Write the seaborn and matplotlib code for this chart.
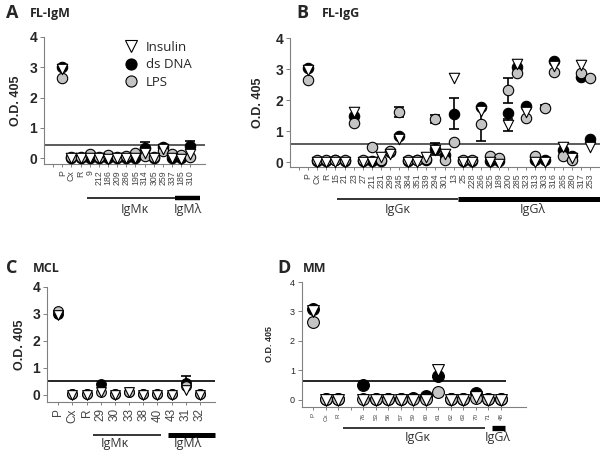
import pandas as pd
import matplotlib
matplotlib.use("Agg")
import matplotlib.pyplot as plt
from matplotlib.lines import Line2D
import seaborn as sns

# --- dados: painel A (FL-IgM) ---
cats_a = ["P", "Cx", "R", "9", "212", "186", "209", "286", "195", "314",
          "305", "259", "337", "185", "310"]
ins_a = [2.95, 0.0, 0.0, 0.0, 0.0, -0.03, 0.0, 0.0, 0.0, 0.18, 0.0, 0.3, 0.02, -0.03, 0.15]
dna_a = [3.02, 0.02, 0.02, 0.02, 0.02, 0.02, 0.02, 0.02, 0.02, 0.34, 0.02, 0.36, 0.02, 0.02, 0.4]
lps_a = [2.65, 0.05, 0.05, 0.15, 0.05, 0.1, 0.05, 0.08, 0.16, 0.08, 0.03, 0.25, 0.14, 0.1, 0.05]
err_dna_a = [0, 0, 0, 0, 0, 0, 0, 0, 0, 0.18, 0, 0, 0, 0, 0.18]
thr_a = 0.45

# --- painel B (FL-IgG) ---
cats_b = ["P", "Cx", "R", "15", "21", "23", "27", "211", "231", "299", "245",
          "384", "351", "339", "294", "301", "13", "25", "228", "266", "325",
          "189", "200", "285", "323", "313", "303", "316", "265", "280", "317", "253"]
ins_b = [2.97, 0.0, 0.0, 0.0, 0.0, 1.62, 0.0, 0.0, 0.17, 0.25, 0.73,
         0.0, 0.0, 0.15, 0.4, 0.25, 2.7, 0.0, 0.0, 1.65, 0.0,
         -0.05, 1.2, 3.17, 1.62, 0.0, 0.0, 3.1, 0.48, 0.12, 3.13, 0.48]
dna_b = [3.03, 0.03, 0.03, 0.08, 0.03, 1.5, 0.03, 0.03, 0.03, 0.33, 0.84,
         0.03, 0.05, 0.05, 0.42, 0.22, 1.55, 0.03, 0.03, 1.78, 0.03,
         0.03, 1.57, 3.05, 1.8, 0.05, 0.05, 3.27, 0.4, 0.18, 2.75, 0.74]
lps_b = [2.65, 0.05, 0.05, 0.05, 0.05, 1.25, 0.05, 0.47, 0.05, 0.36, 1.61,
         0.05, 0.05, 0.1, 1.39, 0.05, 0.65, 0.05, 0.05, 1.22, 0.2,
         0.12, 2.32, 2.88, 1.42, 0.2, 1.75, 2.9, 0.2, 0.05, 2.87, 2.7]
err_ins_b = [0] * 22 + [0.2] + [0] * 9
err_dna_b = [0] * 14 + [0.18] + [0] + [0.5] + [0] * 15
err_lps_b = ([0] * 10 + [0.15] + [0] * 3 + [0.12] + [0] * 4 + [0.55] + [0] * 2
             + [0.4] + [0] * 3 + [0.08] + [0] * 5)
thr_b = 0.57

# --- painel C (MCL) ---
cats_c = ["P", "Cx", "R", "29", "30", "33", "38", "40", "43", "31", "32"]
ins_c = [2.95, 0.0, 0.0, 0.1, 0.0, 0.1, 0.0, 0.0, 0.0, 0.2, 0.0]
dna_c = [3.0, 0.02, 0.02, 0.4, 0.05, 0.1, 0.02, 0.05, 0.02, 0.43, 0.02]
lps_c = [3.12, 0.02, 0.02, 0.12, 0.02, 0.1, 0.02, 0.02, 0.02, 0.35, 0.02]
err_dna_c = [0, 0, 0, 0, 0, 0, 0, 0, 0, 0.28, 0]
thr_c = 0.52

# --- painel D (MM) ---
cats_d = ["P", "Cx", "R", "76", "53", "56", "57", "59", "60", "61",
          "62", "63", "70", "71", "48"]
ins_d = [3.0, 0.0, 0.0, 0.0, 0.0, 0.0, 0.0, 0.0, 0.0, 1.0, 0.0, 0.0, 0.1, 0.0, 0.0]
dna_d = [3.07, 0.02, 0.02, 0.5, 0.02, 0.02, 0.02, 0.05, 0.13, 0.8, 0.02, 0.02, 0.22, 0.02, 0.02]
lps_d = [2.65, 0.02, 0.02, 0.02, 0.02, 0.02, 0.02, 0.02, 0.02, 0.26, 0.02, 0.02, 0.05, 0.02, 0.02]
thr_d = 0.65

antigenos = ["Insulin", "ds DNA", "LPS"]
estilo = {
    "ds DNA": dict(marker="o", color="black", zorder=3),
    "LPS": dict(marker="o", color="#c4c4c4", zorder=4),
    "Insulin": dict(marker="v", color="white", zorder=5),
}

sns.set_style("ticks")
plt.rcParams["font.family"] = ["Liberation Sans", "DejaVu Sans"]

fig = plt.figure(figsize=(6, 4.5), dpi=100)


def eixo(l, t, r, b):
    # retangulo em pixels -> fracao da figura
    return fig.add_axes([l / 600, 1 - b / 450, (r - l) / 600, (b - t) / 450])


def painel(ax, order, cats, ins, dna, lps, erros, size, lw_err=1.2, so_cima=False):
    df = pd.DataFrame({"amostra": cats, "Insulin": ins, "ds DNA": dna, "LPS": lps})
    for ag in ["ds DNA", "LPS", "Insulin"]:
        st = estilo[ag]
        sns.stripplot(data=df, x="amostra", y=ag, order=order, jitter=False,
                      marker=st["marker"], color=st["color"], edgecolor="black",
                      linewidth=0.8, size=size, zorder=st["zorder"], ax=ax)
    for serie, err in erros:
        for c, v, e in zip(cats, serie, err):
            if e > 0:
                yerr = [[0], [e]] if so_cima else e
                ax.errorbar(order.index(c), v, yerr=yerr, fmt="none", ecolor="black",
                            elinewidth=lw_err, capsize=3.5, capthick=lw_err, zorder=2)
    ax.set_xlabel("")
    ax.set_ylabel("O.D. 405", fontsize=9, fontweight="bold")
    ax.set_yticks([0, 1, 2, 3, 4])
    for s in ["top", "right"]:
        ax.spines[s].set_visible(False)
    for s in ["left", "bottom"]:
        ax.spines[s].set_color("#808080")
        ax.spines[s].set_linewidth(0.8)
    ax.tick_params(axis="y", length=3, width=0.7, color="#808080", labelsize=10, pad=2)
    ax.tick_params(axis="x", length=2.5, width=0.7, color="#808080", labelsize=6.3,
                   labelrotation=90, labelcolor="#444444", pad=2)
    for lb in ax.get_yticklabels():
        lb.set_fontweight("bold")


def grupo(x0, x1, y, lw, cor="black"):
    fig.add_artist(Line2D([x0 / 600, x1 / 600], [1 - y / 450] * 2, color=cor, lw=lw,
                          transform=fig.transFigure, solid_capstyle="butt"))


def rotulo(x, y, txt, size=9):
    fig.text(x / 600, 1 - y / 450, txt, ha="center", va="center", fontsize=size,
             family=["Open Sans", "DejaVu Sans"], color="#333333")


# --- A ---
ax_a = eixo(44, 37, 205, 164)
order_a = [" "] + cats_a
painel(ax_a, order_a, cats_a, ins_a, dna_a, lps_a, [(dna_a, err_dna_a)], 7.5, so_cima=True)
ax_a.axhline(thr_a, color="#404040", lw=1.2, zorder=1)
ax_a.set_xlim(-1, 16.6)
ax_a.set_ylim(-0.19, 4.0)
ax_a.yaxis.set_label_coords(-0.135, 0.5)
leg = [Line2D([], [], ls="none", marker=estilo[a]["marker"], markerfacecolor=estilo[a]["color"],
              markeredgecolor="black", markersize=8, markeredgewidth=0.8) for a in antigenos]
ax_a.legend(leg, antigenos, loc="upper left", bbox_to_anchor=(118 / 600, 1 - 34 / 450),
            bbox_transform=fig.transFigure, frameon=False, handlelength=1.0,
            handletextpad=0.6, labelspacing=0.35, borderpad=0,
            prop={"family": "Open Sans", "size": 9.5})

# --- B ---
ax_b = eixo(290, 38, 600, 167)
order_b = [" "] + cats_b
painel(ax_b, order_b, cats_b, ins_b, dna_b, lps_b,
       [(ins_b, err_ins_b), (dna_b, err_dna_b), (lps_b, err_lps_b)], 7.5)
ax_b.axhline(thr_b, color="#404040", lw=1.2, zorder=1)
ax_b.set_xlim(-1, 33.1)
ax_b.set_ylim(-0.16, 4.0)
ax_b.yaxis.set_label_coords(-0.085, 0.5)

# --- C ---
ax_c = eixo(47, 287, 215, 402)
order_c = cats_c
painel(ax_c, order_c, cats_c, ins_c, dna_c, lps_c, [(dna_c, err_dna_c)], 7, so_cima=True)
ax_c.axhline(thr_c, color="black", lw=1.2, zorder=1)
ax_c.set_xlim(-0.8, 11.06)
ax_c.set_ylim(-0.26, 4.0)
ax_c.tick_params(axis="x", labelsize=8.5)
ax_c.yaxis.set_label_coords(-0.125, 0.5)

# --- D ---
ax_d = eixo(302, 282, 526, 407)
order_d = cats_d[:3] + [" "] + cats_d[3:]
painel(ax_d, order_d, cats_d, ins_d, dna_d, lps_d, [], 8.5)
ax_d.hlines(thr_d, -0.9, 15.4, color="black", lw=1.2, zorder=1)
ax_d.set_xlim(-0.9, 17.0)
ax_d.set_ylim(-0.24, 4.0)
ax_d.tick_params(axis="x", labelsize=4.5)
ax_d.tick_params(axis="y", labelsize=6.5)
for lb in ax_d.get_yticklabels():
    lb.set_fontweight("normal")
ax_d.set_ylabel("O.D. 405", fontsize=6.5, fontweight="bold")
ax_d.yaxis.set_label_coords(-0.125, 0.5)

# --- titulos dos paineis ---
for x, y, letra, x2, titulo in [(12, 13, "A", 30, "FL-IgM"), (302, 13, "B", 322, "FL-IgG"),
                                 (12, 268, "C", 33, "MCL"), (284, 268, "D", 303, "MM")]:
    fig.text(x / 600, 1 - y / 450, letra, ha="center", va="center", fontsize=13,
             fontweight="bold", family=["Open Sans", "DejaVu Sans"])
    fig.text(x2 / 600, 1 - y / 450, titulo, ha="left", va="center", fontsize=9,
             fontweight="bold", family=["Open Sans", "DejaVu Sans"])

# --- barras de isotipo ---
grupo(87, 175, 198, 1.4, "#333333")
grupo(175, 200, 198, 3.2)
rotulo(135, 209, "IgMκ")
rotulo(188, 209, "IgMλ")

grupo(337, 458, 199, 1.4, "#333333")
grupo(458, 600, 199, 3.6)
rotulo(398, 209, "IgGκ")
rotulo(533, 209, "IgGλ")

grupo(93, 161, 435, 1.1)
grupo(168, 215, 435, 3.6)
rotulo(115, 444, "IgMκ")
rotulo(188, 444, "IgMλ")

grupo(343, 485, 428, 1.1)
grupo(492, 505, 428, 3.8)
rotulo(418, 437, "IgGκ")
rotulo(498, 437, "IgGλ")

fig.savefig("out.png", dpi=100)
